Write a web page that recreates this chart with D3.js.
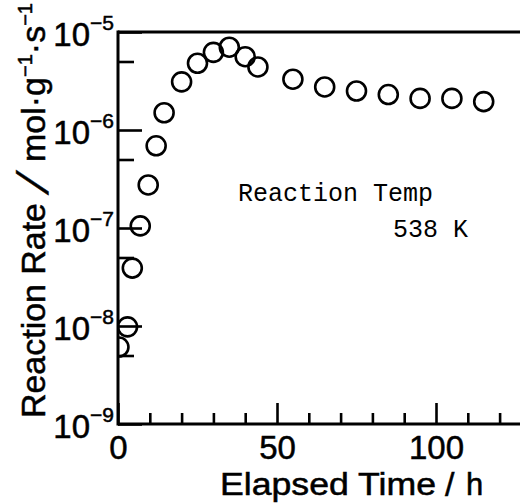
<!DOCTYPE html>
<html>
<head>
<meta charset="utf-8">
<script src="https://cdn.jsdelivr.net/npm/d3@7"></script>
<style>
  body { margin: 0; background: #fff; }
  svg { display: block; }
  .tick text { font-family: "Liberation Sans", Arial, sans-serif; }
</style>
</head>
<body>
<div id="chart"></div>
<script>
// elapsed time (h) and reaction rate (mol g-1 s-1)
var times = [0.3, 3, 4.5, 7, 9.5, 12, 14.5, 20, 25, 30, 35, 40, 44, 55, 65, 75, 85, 95, 105, 115];
var rates = [6.1e-9, 9.8e-9, 3.9e-8, 1.05e-7, 2.75e-7, 6.9e-7, 1.5e-6, 3.1e-6, 4.8e-6, 6.2e-6,
             7.0e-6, 5.6e-6, 4.4e-6, 3.3e-6, 2.75e-6, 2.5e-6, 2.3e-6, 2.1e-6, 2.1e-6, 1.95e-6];

var xMajor = [0, 50, 100];
var xMinor = [10, 20, 30, 40, 60, 70, 80, 90, 110, 120];
var yMajor = [1e-9, 1e-8, 1e-7, 1e-6, 1e-5];
var yMinor = [5e-9, 5e-8, 5e-7, 5e-6];
var yExp = ["\u22129", "\u22128", "\u22127", "\u22126", "\u22125"];

var W = 520, H = 503;
var x = d3.scaleLinear().domain([0, 100]).range([118, 436]);
var y = d3.scaleLog().domain([1e-9, 1e-5]).range([424, 32]);

var svg = d3.select("#chart").append("svg")
    .attr("width", W)
    .attr("height", H);

// clip so marks stop at the left axis
svg.append("clipPath").attr("id", "plot")
  .append("rect").attr("x", x(0)).attr("y", 0).attr("width", W).attr("height", H);

// minor ticks
svg.append("g")
    .attr("transform", "translate(0," + y(1e-9) + ")")
    .call(d3.axisBottom(x).tickValues(xMinor).tickSize(-11).tickFormat(""))
    .call(function(g){ g.select(".domain").remove(); });

svg.append("g")
    .attr("transform", "translate(" + x(0) + ",0)")
    .call(d3.axisLeft(y).tickValues(yMinor).tickSize(-16).tickFormat(""))
    .call(function(g){ g.select(".domain").remove(); });

// major ticks
var xAx = svg.append("g")
    .attr("transform", "translate(0," + y(1e-9) + ")")
    .call(d3.axisBottom(x).tickValues(xMajor).tickSize(-21).tickPadding(12).tickFormat(d3.format("d")))
    .call(function(g){ g.select(".domain").remove(); });
xAx.selectAll("text").attr("font-size", 33).attr("fill", "#000")
    .attr("stroke", "#000").attr("stroke-width", 0.5);

var yAx = svg.append("g")
    .attr("transform", "translate(" + x(0) + ",0)")
    .call(d3.axisLeft(y).tickValues(yMajor).tickSize(-24).tickFormat(""))
    .call(function(g){ g.select(".domain").remove(); });

svg.selectAll(".tick line").attr("stroke", "#000").attr("stroke-width", 2.6);

// y tick labels 10^n
var yl = svg.append("g")
    .attr("font-family", "Liberation Sans, Arial, sans-serif")
    .attr("stroke", "#000").attr("stroke-width", 0.5);
yMajor.forEach(function(v, i){
    var t = yl.append("text")
        .attr("x", 114)
        .attr("y", y(v) + 14)
        .attr("text-anchor", "end");
    t.append("tspan").attr("font-size", 33).text("10");
    t.append("tspan").attr("font-size", 21).attr("dy", -16).text(yExp[i]);
});

// axis frame lines
svg.append("line")
    .attr("x1", x(0)).attr("x2", W + 5)
    .attr("y1", y(1e-9)).attr("y2", y(1e-9))
    .attr("stroke", "#000").attr("stroke-width", 3);
svg.append("line")
    .attr("x1", x(0)).attr("x2", W + 5)
    .attr("y1", y(1e-5)).attr("y2", y(1e-5))
    .attr("stroke", "#000").attr("stroke-width", 3);
svg.append("line")
    .attr("x1", x(0)).attr("x2", x(0))
    .attr("y1", y(1e-5) - 1.5).attr("y2", y(1e-9) + 1.5)
    .attr("stroke", "#000").attr("stroke-width", 3);

// data points
svg.append("g")
    .attr("clip-path", "url(#plot)")
  .selectAll("circle")
    .data(times)
  .enter().append("circle")
    .attr("cx", function(d){ return x(d); })
    .attr("cy", function(d, i){ return y(rates[i]); })
    .attr("r", 9.5)
    .attr("fill", "none")
    .attr("stroke", "#000")
    .attr("stroke-width", 2.6);

// annotation
var note = svg.append("g")
    .attr("font-family", "'Courier New', 'Liberation Mono', monospace")
    .attr("font-size", 25)
    .attr("fill", "#000");
note.append("text").attr("x", 238).attr("y", 201).text("Reaction Temp");
note.append("text").attr("x", 393).attr("y", 237).text("538 K");

// x axis title
var xt = svg.append("g")
    .attr("font-family", "Liberation Sans, Arial, sans-serif")
    .attr("fill", "#000")
    .attr("stroke", "#000").attr("stroke-width", 0.5);
xt.append("text").attr("x", 220).attr("y", 495).attr("font-size", 31)
    .attr("textLength", 216).attr("lengthAdjust", "spacingAndGlyphs")
    .text("Elapsed Time");
xt.append("text").attr("x", 445).attr("y", 496).attr("font-size", 34).text("/");
xt.append("text").attr("x", 466).attr("y", 495).attr("font-size", 31).text("h");

// y axis title (rotated)
var yt = svg.append("g")
    .attr("font-family", "Liberation Sans, Arial, sans-serif")
    .attr("fill", "#000")
    .attr("stroke", "#000").attr("stroke-width", 0.5);
yt.append("text")
    .attr("transform", "translate(45,418) rotate(-90)")
    .attr("font-size", 34)
    .attr("textLength", 215).attr("lengthAdjust", "spacingAndGlyphs")
    .text("Reaction Rate");
yt.append("text")
    .attr("transform", "translate(48,195) rotate(-90) skewX(-22)")
    .attr("font-size", 44)
    .text("/");
var mol = yt.append("text")
    .attr("transform", "translate(45,162) rotate(-90)")
    .attr("font-size", 34);
mol.append("tspan").text("mol\u00b7g");
mol.append("tspan").attr("font-size", 20).attr("dy", -13).text("\u22121");
mol.append("tspan").attr("dy", 13).text("\u00b7s");
mol.append("tspan").attr("font-size", 20).attr("dy", -13).text("\u22121");
</script>
</body>
</html>
